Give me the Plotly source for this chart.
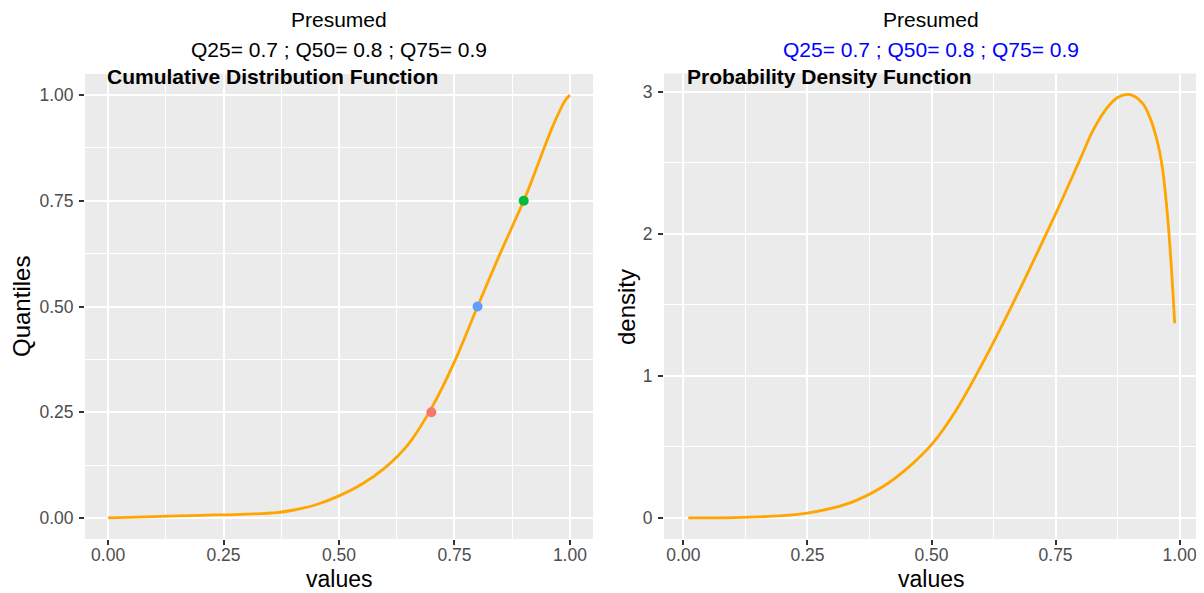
import plotly.graph_objects as go

# ---- data ----
cdf_x = [0.0, 0.1, 0.2, 0.3, 0.365, 0.4, 0.45, 0.5, 0.55, 0.6, 0.65, 0.7, 0.75, 0.8,
         0.85, 0.9, 0.92, 0.94, 0.96, 0.975, 0.99, 1.0]
cdf_y = [0.0, 0.003, 0.006, 0.009, 0.0125, 0.018, 0.031, 0.052, 0.080, 0.119, 0.174, 0.259,
         0.369, 0.5, 0.628, 0.75, 0.805, 0.863, 0.919, 0.956, 0.988, 1.0]

q_x = [0.7, 0.8, 0.9]
q_y = [0.25, 0.5, 0.75]
q_colors = ["#F8766D", "#619CFF", "#00BA38"]

pdf_x = [0.01, 0.1, 0.2, 0.25, 0.3, 0.35, 0.4, 0.45, 0.5, 0.55, 0.6, 0.65, 0.7, 0.75,
         0.8, 0.825, 0.85, 0.875, 0.9, 0.925, 0.94, 0.955, 0.965, 0.975, 0.983, 0.99]
pdf_y = [0.0, 0.002, 0.015, 0.034, 0.068, 0.125, 0.215, 0.345, 0.515, 0.76, 1.07, 1.41,
         1.77, 2.14, 2.53, 2.725, 2.87, 2.96, 2.98, 2.92, 2.82, 2.65, 2.47, 2.15, 1.78, 1.37]

x_ticks = [0, 0.25, 0.5, 0.75, 1.0]
x_labels = ["0.00", "0.25", "0.50", "0.75", "1.00"]
cdf_yticks = [0, 0.25, 0.5, 0.75, 1.0]
cdf_ylabels = ["0.00", "0.25", "0.50", "0.75", "1.00"]
pdf_yticks = [0, 1, 2, 3]
pdf_ylabels = ["0", "1", "2", "3"]

title_main = "Presumed"
title_q = "Q25= 0.7 ; Q50= 0.8 ; Q75= 0.9"
x_title = "values"
cdf_ytitle = "Quantiles"
pdf_ytitle = "density"

FONT = "Liberation Sans, Arial, sans-serif"
ORANGE = "#FFA500"
PANEL = "#EBEBEB"

# the page has an 8px body margin: the figure sits at (8, 8)
OFF = 8
W, H = 1196, 585
def px(v):
    return (v - OFF) / W
def py(v):
    return 1 - (v - OFF) / H

fig = go.Figure()
fig.add_trace(go.Scatter(x=cdf_x, y=cdf_y, mode="lines",
                         line=dict(color=ORANGE, width=2.8, shape="spline", smoothing=1.0),
                         xaxis="x", yaxis="y", showlegend=False))
fig.add_trace(go.Scatter(x=q_x, y=q_y, mode="markers", marker=dict(color=q_colors, size=10),
                         xaxis="x", yaxis="y", showlegend=False))
fig.add_trace(go.Scatter(x=pdf_x, y=pdf_y, mode="lines",
                         line=dict(color=ORANGE, width=2.8, shape="spline", smoothing=1.0),
                         xaxis="x2", yaxis="y2", showlegend=False))

axis_common = dict(
    showline=False, zeroline=False, ticks="outside", ticklen=5, tickwidth=1.5, tickcolor="#333333",
    tickfont=dict(family=FONT, size=17.5, color="#4D4D4D"),
    showgrid=True, gridcolor="white", gridwidth=2, automargin=False,
    ticklabeloverflow="allow",
)

def minor(d):
    return dict(dtick=d, tick0=d, showgrid=True, gridcolor="white", gridwidth=1.1, ticks="")

fig.update_layout(
    width=W, height=H,
    margin=dict(l=0, r=0, t=0, b=0),
    paper_bgcolor="white", plot_bgcolor=PANEL,
    font=dict(family=FONT),
    xaxis=dict(domain=[px(85), px(593)], range=[-0.05, 1.05], tickvals=x_ticks, ticktext=x_labels,
               minor=minor(0.125), ticklabelstandoff=-5, anchor="y", **axis_common),
    yaxis=dict(domain=[py(539), py(74)], range=[-0.05, 1.05], tickvals=cdf_yticks, ticktext=cdf_ylabels,
               minor=minor(0.125), ticklabelstandoff=2, anchor="x", **axis_common),
    xaxis2=dict(domain=[px(664), px(1199)], range=[-0.039, 1.039], tickvals=x_ticks, ticktext=x_labels,
                minor=minor(0.125), ticklabelstandoff=-5, anchor="y2", **axis_common),
    yaxis2=dict(domain=[py(539), py(73.5)], range=[-0.149, 3.129], tickvals=pdf_yticks, ticktext=pdf_ylabels,
                minor=minor(0.5), ticklabelstandoff=2, anchor="x2", **axis_common),
)

ann = [
    dict(text=title_main, x=px(339), y=py(19), font=dict(size=21, color="black")),
    dict(text=title_q, x=px(339), y=py(50), font=dict(size=21, color="black")),
    dict(text=title_main, x=px(931), y=py(19), font=dict(size=21, color="black")),
    dict(text=title_q, x=px(931), y=py(50), font=dict(size=21, color="blue")),
    dict(text="<b>Cumulative Distribution Function</b>", x=px(105), y=py(76), xanchor="left",
         font=dict(size=21, color="black")),
    dict(text="<b>Probability Density Function</b>", x=px(685), y=py(76), xanchor="left",
         font=dict(size=21, color="black")),
    dict(text=x_title, x=px(339), y=0, yanchor="bottom", borderpad=0, font=dict(size=23, color="black")),
    dict(text=x_title, x=px(931), y=0, yanchor="bottom", borderpad=0, font=dict(size=23, color="black")),
    dict(text=cdf_ytitle, x=px(21), y=py(307), textangle=-90, font=dict(size=24, color="black")),
    dict(text=pdf_ytitle, x=px(626), y=py(307), textangle=-90, font=dict(size=24, color="black")),
]
for a in ann:
    a.setdefault("xanchor", "center")
    a.setdefault("yanchor", "middle")
    a.update(xref="paper", yref="paper", showarrow=False)
    a["font"]["family"] = FONT
fig.update_layout(annotations=ann)

fig.write_html("out.html")
